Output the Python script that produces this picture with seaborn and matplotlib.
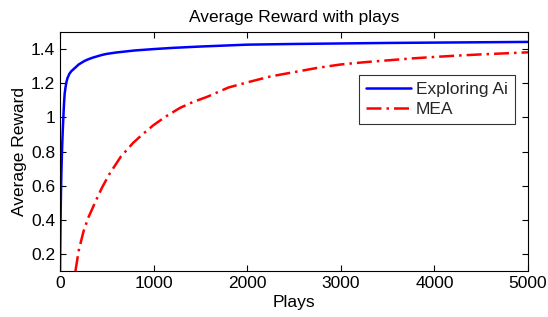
import matplotlib
matplotlib.use("Agg")
import matplotlib.pyplot as plt
import seaborn as sns
import pandas as pd

# values
explorePlays = [0, 3, 6, 10, 15, 20, 25, 30, 35, 40, 45, 50, 60, 70, 80, 100, 120, 140, 160, 180, 200, 230,
                260, 300, 350, 400, 450, 500, 600, 700, 800, 1000, 1200, 1500, 2000, 2500, 3000, 3500,
                4000, 4500, 5000]
exploreReward = [0.10, 0.25, 0.40, 0.55, 0.68, 0.78, 0.86, 0.93, 0.99, 1.05, 1.10, 1.14, 1.18, 1.21, 1.23,
                 1.255, 1.27, 1.28, 1.29, 1.30, 1.31, 1.32, 1.33, 1.34, 1.35, 1.358, 1.366, 1.372, 1.38,
                 1.386, 1.392, 1.40, 1.407, 1.415, 1.426, 1.430, 1.433, 1.436, 1.438, 1.440, 1.442]

meaPlays = [165, 200, 250, 300, 390, 450, 530, 650, 780, 880, 1000, 1130, 1280, 1420, 1570, 1800, 2000,
            2250, 2500, 2750, 3000, 3250, 3500, 3750, 4000, 4250, 4500, 4750, 5000]
meaReward = [0.10, 0.22, 0.33, 0.41, 0.52, 0.59, 0.67, 0.77, 0.85, 0.90, 0.955, 1.005, 1.055, 1.09, 1.12,
             1.175, 1.205, 1.24, 1.265, 1.29, 1.31, 1.323, 1.334, 1.345, 1.354, 1.362, 1.369, 1.375, 1.381]

df = pd.concat([
    pd.DataFrame({"Plays": explorePlays, "Average Reward": exploreReward, "Algorithm": "Exploring Ai"}),
    pd.DataFrame({"Plays": meaPlays, "Average Reward": meaReward, "Algorithm": "MEA"}),
])

sns.set_style("ticks")
plt.rcParams['font.family'] = ['Liberation Sans', 'DejaVu Sans']

fig = plt.figure(figsize=(5.48, 3.17), dpi=100)
ax = fig.add_axes([0.1095, 0.145, 0.854, 0.754])

ax = sns.lineplot(x="Plays", y="Average Reward", hue="Algorithm", style="Algorithm", data=df,
                  palette={"Exploring Ai": "#0000ff", "MEA": "#ff0000"},
                  dashes={"Exploring Ai": "", "MEA": (6, 2, 1, 2)}, linewidth=1.8, ax=ax)

ax.set_xlim(0, 5000)
ax.set_ylim(0.1, 1.5)
ax.set_xticks([0, 1000, 2000, 3000, 4000, 5000])
ax.set_yticks([0.2, 0.4, 0.6, 0.8, 1, 1.2, 1.4])
ax.set_yticklabels(["0.2", "0.4", "0.6", "0.8", "1", "1.2", "1.4"])
ax.tick_params(direction='in', top=True, right=True, labelsize=12.5, colors='black', length=4)
for s in ax.spines.values():
    s.set_visible(True)
    s.set_color('black')
    s.set_linewidth(0.8)

ax.set_title("Average Reward with plays", fontsize=12.5, color='black', pad=7)
plt.xlabel("Plays", color='black', fontsize=12.5, labelpad=3)
plt.ylabel("Average Reward", color='black', fontsize=12.5, labelpad=3)

leg = ax.legend(loc='upper right', bbox_to_anchor=(0.972, 0.82), fontsize=12.5, frameon=True,
                fancybox=False, edgecolor='black', handlelength=2.6, borderaxespad=0,
                handletextpad=0.3, labelspacing=0.3, borderpad=0.4)
leg.get_frame().set_linewidth(0.8)

fig.savefig("out.png", dpi=100)
plt.close()
